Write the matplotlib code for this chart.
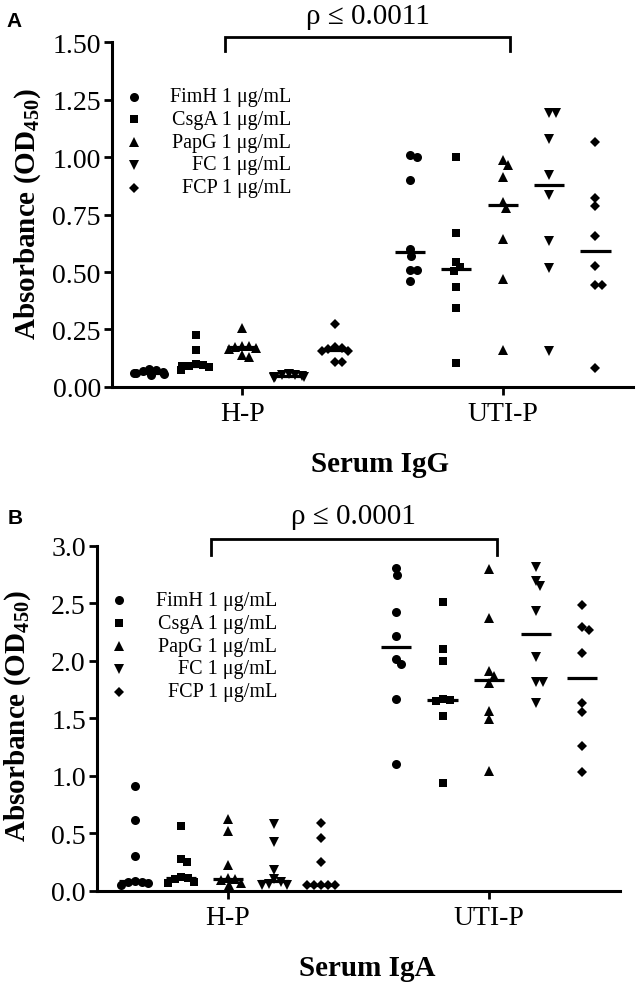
import matplotlib

matplotlib.use('Agg')
import matplotlib.pyplot as plt
import numpy as np

plt.rcParams['font.family'] = ['Liberation Serif', 'DejaVu Serif']
plt.rcParams['mathtext.fontset'] = 'custom'
plt.rcParams['mathtext.rm'] = 'Liberation Serif'
plt.rcParams['mathtext.bf'] = 'Liberation Serif:bold'

ANTIGENS = ['FimH', 'CsgA', 'PapG', 'FC', 'FCP']
LEGEND_LABELS = ['FimH 1 μg/mL', 'CsgA 1 μg/mL', 'PapG 1 μg/mL',
                 'FC 1 μg/mL', 'FCP 1 μg/mL']
GROUPS = ['H-P', 'UTI-P']
MARKERS = ['o', 's', '^', 'v', 'D']
MSIZE = [6.5, 5.8, 6.5, 6.5, 4.6]

# serum IgG, OD450 per antigen (FimH, CsgA, PapG, FC, FCP)
IGG_HP = [
    [0.05, 0.055, 0.06, 0.06, 0.065, 0.07, 0.075, 0.08],
    [0.225, 0.16, 0.10, 0.095, 0.09, 0.09, 0.085, 0.075],
    [0.255, 0.18, 0.18, 0.175, 0.17, 0.165, 0.14, 0.13],
    [0.04, 0.042, 0.045, 0.045, 0.048, 0.05, 0.05, 0.055],
    [0.275, 0.175, 0.17, 0.165, 0.155, 0.155, 0.11, 0.11],
]
IGG_UTI = [
    [1.00, 1.01, 0.90, 0.60, 0.57, 0.51, 0.51, 0.46],
    [1.00, 0.67, 0.545, 0.52, 0.505, 0.433, 0.342, 0.103],
    [0.988, 0.967, 0.914, 0.803, 0.777, 0.643, 0.47, 0.162],
    [1.19, 1.19, 1.078, 0.922, 0.835, 0.636, 0.516, 0.158],
    [1.067, 0.82, 0.786, 0.655, 0.525, 0.442, 0.442, 0.083],
]
# serum IgA
IGA_HP = [
    [0.91, 0.615, 0.305, 0.085, 0.08, 0.075, 0.065, 0.05],
    [0.565, 0.28, 0.25, 0.12, 0.11, 0.10, 0.08, 0.07],
    [0.63, 0.52, 0.225, 0.11, 0.10, 0.095, 0.07, 0.05],
    [0.58, 0.43, 0.18, 0.10, 0.08, 0.06, 0.055, 0.05],
    [0.595, 0.46, 0.25, 0.05, 0.05, 0.05, 0.05, 0.05],
]
IGA_UTI = [
    [2.808, 2.748, 2.429, 2.22, 2.017, 1.974, 1.67, 1.101],
    [2.516, 2.104, 1.997, 1.67, 1.66, 1.65, 1.52, 0.939],
    [2.80, 2.374, 1.91, 1.867, 1.809, 1.563, 1.496, 1.046],
    [2.814, 2.698, 2.65, 2.432, 2.032, 1.815, 1.815, 1.635],
    [2.49, 2.293, 2.27, 2.067, 1.632, 1.554, 1.263, 1.032],
]

PANELS = [
    dict(letter='A', hp=IGG_HP, uti=IGG_UTI, ymax=1.5, yticks=[0, 0.25, 0.5, 0.75, 1.0, 1.25, 1.5],
         fmt='{:.2f}', xlabel='Serum IgG', ptext='ρ ≤ 0.0011',
         rect=[0.1755, 0.6069, 0.8166, 0.3495], brk=(0.935, 2.027, 1.52, 1.46), ptxt_y=1.615,
         xlab=(0.596, 0.529), ylab=(0.044, 0.783), let=(0.010, 0.988)),
    dict(letter='B', hp=IGA_HP, uti=IGA_UTI, ymax=3.0, yticks=[0, 0.5, 1.0, 1.5, 2.0, 2.5, 3.0],
         fmt='{:.1f}', xlabel='Serum IgA', ptext='ρ ≤ 0.0001',
         rect=[0.152, 0.0963, 0.8197, 0.3495], brk=(0.935, 2.03, 3.06, 2.92), ptxt_y=3.26,
         xlab=(0.575, 0.019), ylab=(0.027, 0.274), let=(0.012, 0.484)),
]

STEP = 0.178
HALF_MED = 0.058


def swarm(vals, ypx, xpx, d=7.0, wmax=15.0):
    """beeswarm offsets (data units) for markers of pixel diameter d"""
    vals = np.asarray(vals, float)
    offs = np.zeros(len(vals))
    placed = []
    for i in np.argsort(-vals):
        y = vals[i] * ypx
        cands = [0.0]
        for xj, yj in placed:
            dy = abs(y - yj)
            if dy < d:
                dx = np.sqrt(d * d - dy * dy)
                cands += [xj + dx, xj - dx]
        cands.sort(key=abs)
        for c in cands:
            if all((c - xj) ** 2 + (y - yj) ** 2 >= d * d - 1e-6 for xj, yj in placed):
                offs[i] = c
                placed.append((c, y))
                break
    return np.clip(offs, -wmax, wmax) / xpx


fig = plt.figure(figsize=(6.38, 9.87), dpi=100)
for p in PANELS:
    ax = fig.add_axes(p['rect'])
    ypx = 345 / p['ymax']
    xpx = 0.8166 * 638 / 2.0
    for g, data in enumerate([p['hp'], p['uti']]):
        for k, vals in enumerate(data):
            xc = g + 1 + (k - 2) * STEP
            xs = xc + swarm(vals, ypx, xpx)
            ax.plot(xs, vals, ls='none', marker=MARKERS[k], ms=MSIZE[k],
                    color='black', mew=0, clip_on=False)
            m = np.median(vals)
            ax.plot([xc - HALF_MED, xc + HALF_MED], [m, m], color='black',
                    lw=2.3, solid_capstyle='butt')
    ax.set_xlim(0.5, 2.5)
    ax.set_ylim(0, p['ymax'])
    ax.set_xticks([1, 2])
    ax.set_xticklabels(GROUPS, fontsize=20)
    ax.set_yticks(p['yticks'])
    ax.set_yticklabels([p['fmt'].format(t) for t in p['yticks']], fontsize=20)
    for s in ['top', 'right']:
        ax.spines[s].set_visible(False)
    for s in ['left', 'bottom']:
        ax.spines[s].set_linewidth(2.2)
    ax.tick_params(axis='y', direction='out', length=6, width=2.0, pad=2)
    ax.tick_params(axis='x', direction='out', length=6, width=2.0, pad=4)

    # legend
    for k, lab in enumerate(LEGEND_LABELS):
        yy = 0.842 - k * 0.066
        ax.plot([0.042], [yy], transform=ax.transAxes, ls='none',
                marker=MARKERS[k], ms=MSIZE[k], color='black', mew=0, clip_on=False)
        ax.text(0.344, yy, lab, transform=ax.transAxes, ha='right', va='center',
                fontsize=14.5)

    # significance bracket
    x0, x1, yt, yb = p['brk']
    ax.plot([x0, x0, x1, x1], [yb, yt, yt, yb], color='black', lw=2.0,
            clip_on=False, solid_joinstyle='miter')
    ax.text((x0 + x1) / 2, p['ptxt_y'], p['ptext'], ha='center', va='center',
            fontsize=21)

    fig.text(p['xlab'][0], p['xlab'][1], p['xlabel'], ha='center', va='center',
             fontsize=21, fontweight='bold')
    fig.text(p['ylab'][0], p['ylab'][1], r'Absorbance (OD$_{\mathbf{450}}$)',
             ha='center', va='center', rotation=90, fontsize=21, fontweight='bold')
    fig.text(p['let'][0], p['let'][1], p['letter'], ha='left', va='top',
             fontsize=15, fontweight='bold', family='Liberation Sans')

fig.savefig('out.png', dpi=100)
